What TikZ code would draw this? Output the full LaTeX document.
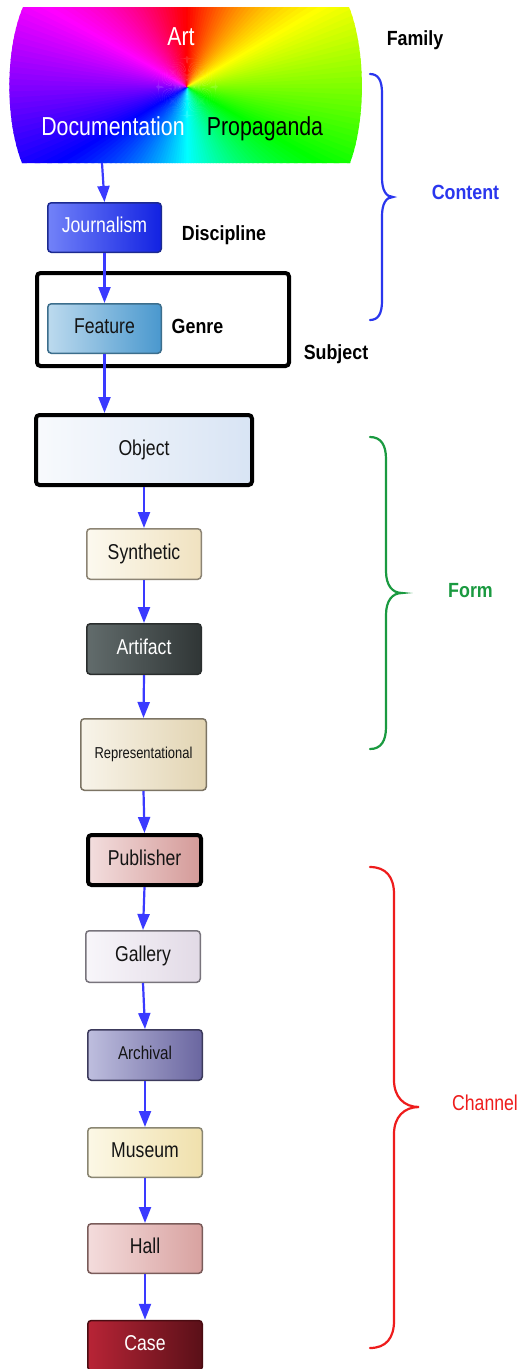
\documentclass[tikz,border=0pt]{standalone}
\usepackage{fontspec}
\setmainfont{Liberation Sans}
\newfontfamily\nodefont{Liberation Sans}[FakeStretch=0.82]
\newfontfamily\lblfont{Liberation Sans}[FakeStretch=0.87]
\usetikzlibrary{arrows.meta}
\definecolor{arrowblue}{HTML}{3A3AFF}
\definecolor{contentblue}{HTML}{2A36EE}
\definecolor{formgreen}{HTML}{1A9A40}
\definecolor{channelred}{HTML}{EE1C1C}
\definecolor{jL}{HTML}{7282F8}\definecolor{jR}{HTML}{1222E2}\definecolor{jD}{HTML}{1C2A90}
\definecolor{fL}{HTML}{BCDAEE}\definecolor{fR}{HTML}{4A98CE}\definecolor{fD}{HTML}{3C6E8C}
\definecolor{oL}{HTML}{F8FAFD}\definecolor{oR}{HTML}{D8E4F4}
\definecolor{sL}{HTML}{FCF9EF}\definecolor{sR}{HTML}{F0E2C0}\definecolor{sD}{HTML}{8C8474}
\definecolor{aL}{HTML}{626C6C}\definecolor{aR}{HTML}{303636}\definecolor{aD}{HTML}{2A2E2E}
\definecolor{rL}{HTML}{F8F4EA}\definecolor{rR}{HTML}{E2D4B2}\definecolor{rD}{HTML}{7C7464}
\definecolor{pL}{HTML}{F3DEDE}\definecolor{pR}{HTML}{D49A98}
\definecolor{gL}{HTML}{F8F6FA}\definecolor{gR}{HTML}{E2DAE6}\definecolor{gD}{HTML}{78747C}
\definecolor{vL}{HTML}{BEBEDE}\definecolor{vR}{HTML}{6A66A0}\definecolor{vD}{HTML}{3C3A5C}
\definecolor{mL}{HTML}{FCF8E6}\definecolor{mR}{HTML}{F0E0AC}\definecolor{mD}{HTML}{8A8672}
\definecolor{hL}{HTML}{F4DCDC}\definecolor{hR}{HTML}{D8A2A0}\definecolor{hD}{HTML}{7A5C5A}
\definecolor{cL}{HTML}{B82436}\definecolor{cR}{HTML}{5A1018}\definecolor{cD}{HTML}{4A0C12}
\tikzset{
  box/.style={draw, line width=1.5pt, rounded corners=3.5pt, inner sep=0pt,
    font=\nodefont\fontsize{21.5}{24}\selectfont, text height=15.4pt, text depth=5pt,
    minimum width=114.5pt, minimum height=50.5pt, text=black!92},
  thickbox/.style={box, line width=4pt, draw=black},
  lbl/.style={font=\lblfont\bfseries\fontsize{20.5}{24}\selectfont, anchor=base, inner sep=0pt},
  toptext/.style={font=\nodefont\fontsize{26}{30}\selectfont, anchor=base, inner sep=0pt},
  flow/.style={draw=arrowblue, line width=2.2pt, -{Triangle[length=16pt,width=12pt]}},
  bracestyle/.style={line width=2.2pt, line cap=round}
}
\begin{document}
\begin{tikzpicture}[x=1pt,y=-1pt]
\fill[white] (0,0) rectangle (519,1369);
\useasboundingbox (0,0) rectangle (519,1369);

% colour wheel shape
\begin{scope}
\clip (23,7) -- (349,7) .. controls (366,50) and (366,120) .. (350,163) -- (22,163) .. controls (5,120) and (5,50) .. (23,7) -- cycle;
\foreach \h in {0,2,...,358}{
  \definecolor{wc}{Hsb}{\h,1,1}
  \fill[wc] (187,87) -- +({90-\h+1.4}:320pt) -- +({90-\h-1.4}:320pt) -- cycle;
}
\end{scope}
\node[toptext, text=white] (art) at (181,45.5) {Art};
\node[toptext, text=white] (doc) at (113,135) {Documentation};
\node[toptext, text=black] (prop) at (265,135) {Propaganda};
\coordinate (famout) at (102,163);

% subject container
\node[thickbox, fill=white, minimum width=252pt, minimum height=93pt] (subject) at (163,319.5) {};

% labels
\node[lbl] (family) at (415,45) {Family};
\node[lbl] (discipline) at (224,240) {Discipline};
\node[lbl] (genre) at (197.5,333) {Genre};
\node[lbl] (subjectlbl) at (336,359) {Subject};
\node[lbl, text=contentblue] (content) at (465.5,199) {Content};
\node[lbl, text=formgreen] (form) at (470.5,597) {Form};
\node[font=\nodefont\fontsize{21.5}{24}\selectfont, text=channelred, anchor=base, inner sep=0pt] (channel) at (485,1110) {Channel};

% boxes
\node[box, left color=jL, right color=jR, draw=jD, text=white, minimum width=113.5pt, minimum height=49.5pt] (journ) at (104.5,227.5) {Journalism};
\node[box, left color=fL, right color=fR, draw=fD, minimum width=113.5pt, minimum height=49.5pt] (feature) at (104.5,328.5) {Feature};
\node[thickbox, left color=oL, right color=oR, minimum width=216pt, minimum height=70pt] (object) at (144,450) {Object};
\node[box, left color=sL, right color=sR, draw=sD] (synth) at (144,554) {Synthetic};
\node[box, left color=aL, right color=aR, draw=aD, text=white] (artifact) at (144,649) {Artifact};
\node[box, left color=rL, right color=rR, draw=rD, minimum width=125.5pt, minimum height=71.5pt, font=\nodefont\fontsize{15.8}{18}\selectfont, text height=11.3pt, text depth=3.6pt] (repr) at (143.5,754.5) {Representational};
\node[thickbox, left color=pL, right color=pR, minimum width=113pt, minimum height=50pt] (publisher) at (144.5,860) {Publisher};
\node[box, left color=gL, right color=gR, draw=gD, minimum height=51.5pt] (gallery) at (143,956.5) {Gallery};
\node[box, left color=vL, right color=vR, draw=vD, font=\nodefont\fontsize{18.5}{21}\selectfont, text height=13.3pt, text depth=4.3pt] (archival) at (145,1055) {Archival};
\node[box, left color=mL, right color=mR, draw=mD, minimum height=49.5pt] (museum) at (145,1152.5) {Museum};
\node[box, left color=hL, right color=hR, draw=hD, minimum height=49.5pt] (hall) at (145,1248.5) {Hall};
\node[box, left color=cL, right color=cR, draw=cD, text=white, minimum height=50pt] (case) at (145,1345.5) {Case};

% connectors
\draw[flow] (famout) -- (journ.north);
\draw[flow] (journ.south) -- (feature.north);
\draw[flow] (feature.south) -- (feature.south |- object.north);
\draw[flow] (object.south) -- (synth.north);
\draw[flow] (synth.south) -- (artifact.north);
\draw[flow] (artifact.south) -- (repr.north);
\draw[flow] (repr.south) -- (publisher.north);
\draw[flow] (publisher.south) -- (gallery.north);
\draw[flow] (gallery.south) -- (archival.north);
\draw[flow] (archival.south) -- (museum.north);
\draw[flow] (museum.south) -- (hall.north);
\draw[flow] (hall.south) -- (case.north);

% braces
\draw[bracestyle, contentblue] (370,74) .. controls (378,74) and (382,80) .. (382,93) -- (382,178) .. controls (382,190) and (386,197) .. (393,197) .. controls (386,197) and (382,204) .. (382,216) -- (382,301) .. controls (382,314) and (378,320) .. (370,320);
\draw[bracestyle, formgreen] (370,437) .. controls (381,437) and (386,445) .. (386,459) -- (386,571) .. controls (386,585) and (392,593) .. (402,593) .. controls (392,593) and (386,601) .. (386,615) -- (386,727) .. controls (386,741) and (381,749) .. (370,749);
\draw[bracestyle, channelred] (370,867) .. controls (386,867) and (394,877) .. (394,894) -- (394,1080) .. controls (394,1097) and (404,1107) .. (419,1107) .. controls (404,1107) and (394,1117) .. (394,1134) -- (394,1321) .. controls (394,1338) and (386,1348) .. (370,1348);
\end{tikzpicture}
\end{document}
